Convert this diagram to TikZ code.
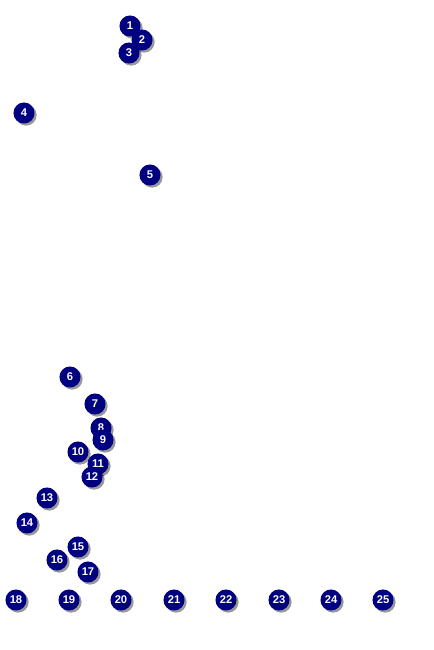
\documentclass[tikz,border=0pt]{standalone}
\usepackage{fontspec}
\setmainfont{Liberation Sans}
\usepackage{xcolor}
\usepackage{tikz}
\usetikzlibrary{shadows}
\definecolor{navy}{HTML}{000080}

\begin{document}
\begin{tikzpicture}[
  x=0.75pt, y=-0.75pt,
  dot/.style={circle, fill=navy, text=white, inner sep=0pt, minimum size=15.8pt,
    font=\fontsize{8.4}{9}\selectfont\bfseries,
    drop shadow={shadow xshift=1.6pt, shadow yshift=-1.6pt, fill=black, opacity=0.4}}
]
\useasboundingbox (0,0) rectangle (433,650);
\node[dot] (n1) at (130,26) {1};
\node[dot] (n2) at (142,40) {2};
\node[dot] (n3) at (129,53) {3};
\node[dot] (n4) at (24,113) {4};
\node[dot] (n5) at (150,175) {5};
\node[dot] (n6) at (70,377) {6};
\node[dot] (n7) at (95,404) {7};
\node[dot] (n8) at (101,428) {8};
\node[dot] (n9) at (103,440) {9};
\node[dot] (n10) at (78,452) {10};
\node[dot] (n11) at (98,464) {11};
\node[dot] (n12) at (92,477) {12};
\node[dot] (n13) at (47,498) {13};
\node[dot] (n14) at (27,523) {14};
\node[dot] (n15) at (78,547) {15};
\node[dot] (n16) at (57,560) {16};
\node[dot] (n17) at (88,572) {17};
\node[dot] (n18) at (16,600) {18};
\node[dot] (n19) at (69,600) {19};
\node[dot] (n20) at (121,600) {20};
\node[dot] (n21) at (174,600) {21};
\node[dot] (n22) at (226,600) {22};
\node[dot] (n23) at (279,600) {23};
\node[dot] (n24) at (331,600) {24};
\node[dot] (n25) at (383,600) {25};
\end{tikzpicture}
\end{document}
